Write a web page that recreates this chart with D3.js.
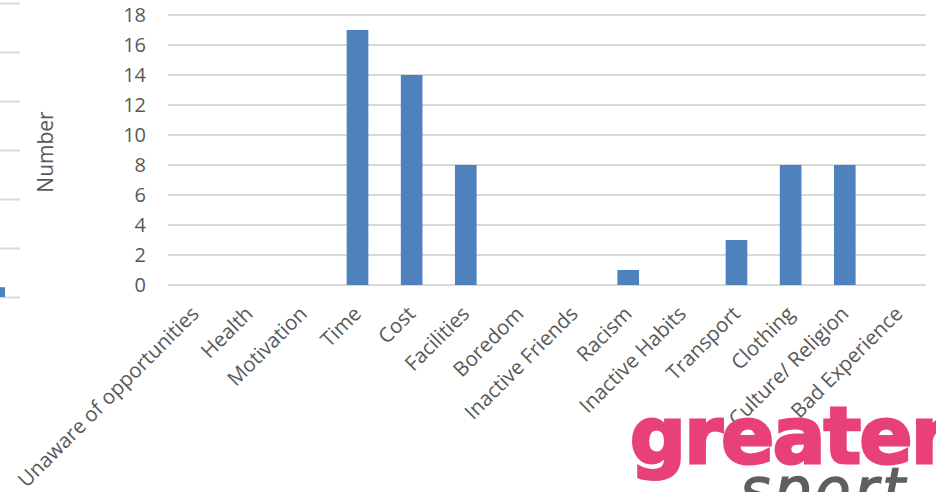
<!DOCTYPE html>
<html>
<head>
<meta charset="utf-8">
<script src="https://cdn.jsdelivr.net/npm/d3@7/dist/d3.min.js"></script>
<style>
  html, body { margin: 0; padding: 0; background: #fff; }
  svg { display: block; }
</style>
</head>
<body>
<svg id="chart" width="936" height="492"></svg>
<script>
// Barriers to taking part, count of responses
const categories = ["Unaware of opportunities", "Health", "Motivation", "Time", "Cost",
  "Facilities", "Boredom", "Inactive Friends", "Racism", "Inactive Habits",
  "Transport", "Clothing", "Culture/ Religion", "Bad Experience"];
const counts = [0, 0, 0, 17, 14, 8, 0, 0, 1, 0, 3, 8, 8, 0];
const yTicks = [0, 2, 4, 6, 8, 10, 12, 14, 16, 18];

// Neighbouring chart, only its right edge falls inside the frame
const sideTicks = [0, 5, 10, 15, 20, 25, 30];
const sideValues = [1];

const textColor = "#595959";
const gridColor = "#d9d9d9";
const barColor = "#4f81bd";
const font = "'Open Sans', 'Noto Sans', sans-serif";

const svg = d3.select("#chart");

// ---- neighbouring chart edge ----
const sy = d3.scaleLinear().domain([0, 30]).range([297, 3]);
const side = svg.append("g");
side.selectAll("line").data(sideTicks).join("line")
  .attr("x1", 0).attr("x2", 20)
  .attr("y1", d => sy(d) + 0.5).attr("y2", d => sy(d) + 0.5)
  .attr("stroke", gridColor).attr("stroke-width", 2);
side.selectAll("rect").data(sideValues).join("rect")
  .attr("x", -17).attr("width", 22)
  .attr("y", d => sy(d)).attr("height", d => sy(0) - sy(d))
  .attr("fill", barColor);

// ---- main chart ----
const x = d3.scaleBand().domain(categories).range([168, 926]).paddingInner(0.6).paddingOuter(0.3);
const y = d3.scaleLinear().domain([0, 18]).range([285, 15]);

// gridlines
svg.append("g").selectAll("line").data(yTicks).join("line")
  .attr("x1", 168).attr("x2", 926)
  .attr("y1", d => y(d)).attr("y2", d => y(d))
  .attr("stroke", gridColor).attr("stroke-width", 2);

// bars
svg.append("g").selectAll("rect").data(categories).join("rect")
  .attr("x", d => x(d))
  .attr("width", x.bandwidth())
  .attr("y", (d, i) => y(counts[i]))
  .attr("height", (d, i) => y(0) - y(counts[i]))
  .attr("fill", barColor);

// y axis labels
const yAxis = svg.append("g")
  .attr("transform", "translate(168,0)")
  .call(d3.axisLeft(y).tickValues(yTicks).tickSize(0).tickPadding(22));
yAxis.select(".domain").remove();
yAxis.selectAll("text")
  .attr("fill", textColor)
  .style("font-family", font)
  .style("font-size", "20px");

// x axis labels, rotated
const xAxis = svg.append("g")
  .attr("transform", "translate(0,285)")
  .call(d3.axisBottom(x).tickSize(0).tickPadding(0));
xAxis.select(".domain").remove();
xAxis.selectAll("text")
  .attr("fill", textColor)
  .style("font-family", font)
  .style("font-size", "20.5px")
  .attr("text-anchor", "end")
  .attr("dy", null)
  .attr("transform", "translate(5,30) rotate(-45)");

// y axis title
svg.append("text")
  .attr("transform", "translate(53,152) rotate(-90)")
  .attr("text-anchor", "middle")
  .attr("fill", textColor)
  .style("font-family", font)
  .style("font-size", "21px")
  .text("Number");

// ---- logo ----
const logo = svg.append("g");
logo.append("text")
  .attr("x", 630).attr("y", 463)
  .attr("fill", "#e8407a")
  .attr("stroke", "#e8407a")
  .attr("stroke-width", 3)
  .style("font-family", "'DejaVu Sans', sans-serif")
  .style("font-weight", "bold")
  .style("font-size", "78px")
  .style("letter-spacing", "-1.5px")
  .text("greater");
logo.append("text")
  .attr("x", 740).attr("y", 510)
  .attr("fill", "#5f5f5f")
  .attr("stroke", "#5f5f5f")
  .attr("stroke-width", 1.5)
  .style("font-family", "'DejaVu Sans', sans-serif")
  .style("font-style", "italic")
  .style("font-size", "58px")
  .style("letter-spacing", "4px")
  .text("sport");
</script>
</body>
</html>
